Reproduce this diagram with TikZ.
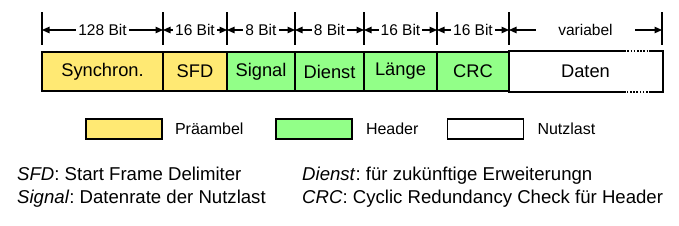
\documentclass[tikz,border=0pt]{standalone}
\usepackage{fontspec}
\setmainfont{Liberation Sans}
\usepackage{tikz}
\usetikzlibrary{arrows.meta,positioning,calc}
\definecolor{praeyellow}{RGB}{255,233,115}
\definecolor{headgreen}{RGB}{146,255,136}
\frenchspacing

\begin{document}
\begin{tikzpicture}[
    x=1pt, y=-1pt,
    % --- STYLES ---
    field/.style={
        rectangle, draw=black, line width=1.6pt,
        minimum height=39pt, inner sep=0pt,
        font=\fontsize{18.3}{20}\selectfont
    },
    tick/.style={line width=1.6pt},
    dim/.style={{Triangle[length=7.5pt,width=6.5pt]}-{Triangle[length=7.5pt,width=6.5pt]}, line width=1.2pt},
    dimlabel/.style={fill=white, inner xsep=2pt, inner ysep=1pt, font=\fontsize{15.5}{17}\selectfont},
    legendbox/.style={rectangle, draw=black, line width=1.6pt, minimum width=76pt, minimum height=20pt, inner sep=0pt},
    legendtext/.style={anchor=west, inner sep=0pt, font=\fontsize{16}{18}\selectfont},
    note/.style={anchor=base west, inner sep=0pt, font=\fontsize{18.6}{20}\selectfont}
]
\useasboundingbox (0,0) rectangle (679,225);

% ===== 1. FELDER DES RAHMENS =====
\node[field, fill=praeyellow, minimum width=121pt] (sync) at (102.5,71.5) {Synchron.};
\node[field, fill=praeyellow, minimum width=64pt] (sfd) at (195,71.5) {SFD};
\node[field, fill=headgreen, minimum width=68pt] (signal) at (261,71.5) {Signal};
\node[field, fill=headgreen, minimum width=69pt] (dienst) at (329.5,71.5) {Dienst};
\node[field, fill=headgreen, minimum width=73pt] (laenge) at (400.5,71.5) {Länge};
\node[field, fill=headgreen, minimum width=72pt] (crc) at (473,71.5) {CRC};
\node[field, draw=none, minimum width=153pt] (daten) at (585.5,71.5) {Daten};

% Datenfeld: offen nach rechts (gepunktet)
\draw[line width=1.6pt] (daten.north west) -- ++(116,0) coordinate (dn1);
\draw[line width=1.6pt, dash pattern=on 1.6pt off 1.6pt] (dn1) -- ++(25,0) coordinate (dn2);
\draw[line width=1.6pt] (dn2) -- (daten.north east) -- (daten.south east) -- ++(-12,0) coordinate (ds2);
\draw[line width=1.6pt, dash pattern=on 1.6pt off 1.6pt] (ds2) -- ++(-25,0) coordinate (ds1);
\draw[line width=1.6pt] (ds1) -- (daten.south west);

% ===== 2. BEMASSUNG =====
\coordinate (t1) at (42,30);
\coordinate (t2) at (163,30);
\coordinate (t3) at (227,30);
\coordinate (t4) at (295,30);
\coordinate (t5) at (364,30);
\coordinate (t6) at (437,30);
\coordinate (t7) at (509,30);
\coordinate (t8) at (662,30);

\draw[tick] (42,12) -- (42,45);
\draw[tick] (163,12) -- (163,45);
\draw[tick] (227,12) -- (227,45);
\draw[tick] (295,12) -- (295,45);
\draw[tick] (364,12) -- (364,45);
\draw[tick] (437,12) -- (437,45);
\draw[tick] (509,12) -- (509,45);
\draw[tick] (662,12) -- (662,45);

\draw[dim] (t1) -- node[dimlabel] (d1) {128 Bit} (t2);
\draw[dim] (t2) -- node[dimlabel] (d2) {16 Bit} (t3);
\draw[dim] (t3) -- node[dimlabel] (d3) {8 Bit} (t4);
\draw[dim] (t4) -- node[dimlabel] (d4) {8 Bit} (t5);
\draw[dim] (t5) -- node[dimlabel] (d5) {16 Bit} (t6);
\draw[dim] (t6) -- node[dimlabel] (d6) {16 Bit} (t7);
\draw[dim] (t7) -- node[dimlabel, inner xsep=22pt] (d7) {variabel} (t8);

% ===== 3. LEGENDE =====
\node[legendbox, fill=praeyellow] (lg1) at (124,129) {};
\node[legendtext, right=12pt of lg1] (lt1) {Präambel};
\node[legendbox, fill=headgreen] (lg2) at (314,129) {};
\node[legendtext, right=13pt of lg2] (lt2) {Header};
\node[legendbox, fill=white] (lg3) at (485.5,129) {};
\node[legendtext, right=13pt of lg3] (lt3) {Nutzlast};

% ===== 4. ERKLÄRUNGEN =====
\node[note] (n1) at (17,180) {\textit{SFD}: Start Frame Delimiter};
\node[note] (n2) at (17,203) {\textit{Signal}: Datenrate der Nutzlast};
\node[note] (n3) at (302,180) {\textit{Dienst}: für zukünftige Erweiterungn};
\node[note] (n4) at (302,203) {\textit{CRC}: Cyclic Redundancy Check für Header};

\end{tikzpicture}
\end{document}
